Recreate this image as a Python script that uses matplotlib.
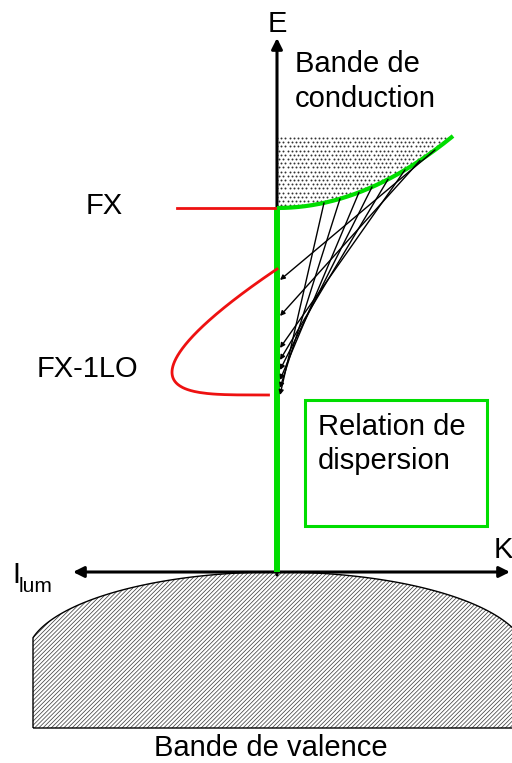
import numpy as np
import matplotlib
matplotlib.use("Agg")
import matplotlib.pyplot as plt
from matplotlib.patches import Polygon, Rectangle

plt.rcParams['font.family'] = ['Liberation Sans', 'DejaVu Sans']
plt.rcParams['hatch.linewidth'] = 0.55

# everything in pixel units of the 512x763 picture, y pointing down
K0, E_GAP = 277, 208          # k=0 axis, bottom of the conduction band (FX)
K_MAX, E_TOP = 453, 136       # end of the drawn dispersion / top of the band
# relaxation arrows : start k on the dispersion -> end energy on k=0
arrow_k_start = [324, 340, 359, 372, 388, 405, 420, 435]
arrow_e_end = [395, 388, 380, 370, 360, 348, 316, 280]
# FX-1LO line shape
lo_e_low, lo_e_high = 395, 269
lo_width = 105
lo_power = 0.22
# valence band dome
vb_left, vb_bottom = 33, 728
vb_top, vb_halfwidth, vb_height = 572, 250, 84

GREEN = '#00dd00'
RED = '#ee1111'

fig = plt.figure(figsize=(5.12, 7.63), dpi=100)
ax = fig.add_axes([0, 0, 1, 1])
ax.set_xlim(0, 512)
ax.set_ylim(763, 0)
ax.axis('off')

# dispersion curve  E = E_gap - a k^2
a = (E_GAP - E_TOP) / (K_MAX - K0) ** 2
k = np.linspace(K0, K_MAX, 200)
e = E_GAP - a * (k - K0) ** 2

# dotted conduction band
band = Polygon(np.column_stack([np.r_[k, K0], np.r_[e, E_TOP]]), closed=True,
               facecolor='none', edgecolor='none')
ax.add_patch(band)
gx, gy = np.meshgrid(np.arange(K0, K_MAX + 4, 4.2), np.arange(E_TOP + 2, E_GAP + 4, 4.2))
gx = gx + (np.arange(gx.shape[0])[:, None] % 2) * 2.1
dots = ax.scatter(gx.ravel(), gy.ravel(), s=2.0, color='#333333', lw=0, zorder=1)
dots.set_clip_path(band)

# valence band
xv = np.linspace(vb_left, 520, 300)
yv = vb_top + vb_height - vb_height * np.sqrt(np.clip(1 - ((xv - K0) / vb_halfwidth) ** 2, 0, 1))
vb_pts = np.column_stack([np.r_[vb_left, xv, 520], np.r_[vb_bottom, yv, vb_bottom]])
ax.add_patch(Polygon(vb_pts, closed=True, facecolor='white', edgecolor='#444444',
                     hatch='////////', lw=0, zorder=1))
ax.add_patch(Polygon(vb_pts, closed=True, facecolor='none', edgecolor='black', lw=1, zorder=2))

# axes
ax.annotate('', xy=(K0, 38), xytext=(K0, 575),
            arrowprops=dict(arrowstyle='-|>', color='black', lw=2.2, mutation_scale=16,
                            shrinkA=0, shrinkB=0), zorder=3)
ax.annotate('', xy=(73, 572), xytext=(510, 572),
            arrowprops=dict(arrowstyle='<|-|>', color='black', lw=2.2, mutation_scale=16,
                            shrinkA=0, shrinkB=0), zorder=3)

# relaxation arrows
for ks, ee in zip(arrow_k_start, arrow_e_end):
    es = E_GAP - a * (ks - K0) ** 2
    ax.annotate('', xy=(K0 + 3, ee), xytext=(ks, es),
                arrowprops=dict(arrowstyle='-|>', color='black', lw=1.0, mutation_scale=7,
                                shrinkA=0, shrinkB=0), zorder=5)

# green dispersion + k=0 line
ax.plot(k, e, color=GREEN, lw=3, solid_capstyle='butt', zorder=4)
ax.plot([K0, K0], [E_GAP - 1, 572], color=GREEN, lw=4.3, solid_capstyle='butt', zorder=4)

# FX emission line
ax.plot([177, K0 - 2], [E_GAP, E_GAP], color=RED, lw=2, zorder=4)

# FX-1LO line shape
de = np.r_[np.geomspace(1e-4, 1, 60), np.linspace(1, lo_e_low - lo_e_high, 250)[1:]]
shape = de ** lo_power * (1 - de / (lo_e_low - lo_e_high))
ax.plot(K0 - lo_width * shape / shape.max(), lo_e_low - de, color=RED, lw=2, zorder=4)

# dispersion box
ax.add_patch(Rectangle((305, 400), 182, 126, facecolor='none', edgecolor=GREEN, lw=2.2))

fs = 21
ax.text(K0, 32, 'E', fontsize=fs, ha='center', va='baseline')
ax.text(295, 72, 'Bande de', fontsize=fs, va='baseline')
ax.text(295, 107, 'conduction', fontsize=fs, va='baseline')
ax.text(86, 214, 'FX', fontsize=fs, va='baseline')
ax.text(37, 377, 'FX-1LO', fontsize=fs, va='baseline')
ax.text(318, 435, 'Relation de', fontsize=fs, va='baseline')
ax.text(318, 469, 'dispersion', fontsize=fs, va='baseline')
ax.text(494, 558, 'K', fontsize=fs, va='baseline')
ax.text(12, 583, 'I', fontsize=fs, va='baseline')
ax.text(19, 592, 'lum', fontsize=15, va='baseline')
ax.text(271, 756, 'Bande de valence', fontsize=fs, ha='center', va='baseline')

fig.savefig('out.png', dpi=100)
